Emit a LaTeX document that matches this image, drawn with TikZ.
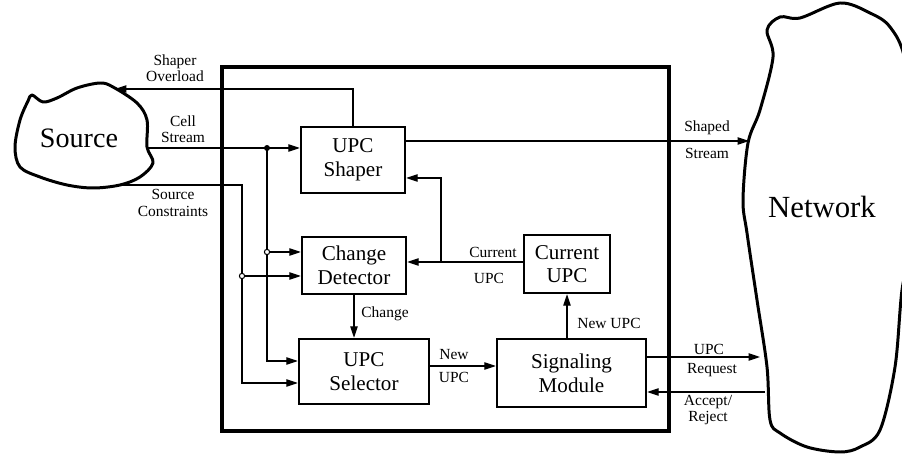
\documentclass[tikz,border=0pt]{standalone}
\usepackage{fontspec}
\setmainfont{Liberation Serif}
\usetikzlibrary{arrows.meta,positioning}

\tikzset{
  blk/.style={draw, line width=1.4pt, align=center, inner sep=0pt,
    font=\fontsize{12}{13.5}\selectfont},
  lbl/.style={align=center, inner sep=0pt, font=\fontsize{8.8}{9.2}\selectfont},
  wire/.style={line width=0.6pt},
  sig/.style={wire, -{Triangle[length=2.3mm,width=1.5mm]}},
  cloudline/.style={line width=1.7pt, line join=round},
  big/.style={inner sep=0pt, font=\fontsize{16}{18}\selectfont}
}

\begin{document}
\begin{tikzpicture}[x=0.02cm, y=-0.02cm]
  \useasboundingbox (0,0) rectangle (902,455);

  % clouds
  \draw[cloudline] plot[smooth cycle, tension=0.55] coordinates {
    (32,95) (43,102) (57,98) (77,88) (100,83) (113,87) (137,103)
    (147,120) (147,147) (153,163) (140,177) (120,185) (93,188)
    (67,185) (40,177) (20,167) (15,147) (20,120) (28,101)};
  \node[big] (src) at (79,138) {Source};

  \draw[cloudline] plot[smooth cycle, tension=0.55] coordinates {
    (767,30) (780,17) (800,18) (840,3) (870,13) (890,27) (905,60)
    (916,150) (912,240) (902,290) (895,367) (880,430) (860,447) (840,452)
    (807,447) (780,433) (770,420)
    (767,367) (757,300) (747,233) (743,200) (748,143) (760,110) (773,57)};
  \node[big, font=\fontsize{17.5}{19}\selectfont] (net) at (822,207) {Network};

  % unit frame and blocks
  \node[draw, line width=2pt, minimum width=8.94cm, minimum height=7.28cm] (unit) at (445.5,249) {};
  \node[blk, minimum width=2.08cm, minimum height=1.32cm] (shaper) at (353,160) {UPC\\Shaper};
  \node[blk, minimum width=2.08cm, minimum height=1.14cm] (detector) at (354,265.5) {Change\\Detector};
  \node[blk, minimum width=2.6cm, minimum height=1.3cm] (selector) at (364,371.5) {UPC\\Selector};
  \node[blk, minimum width=2.98cm, minimum height=1.36cm] (signal) at (571.5,373) {Signaling\\Module};
  \node[blk, minimum width=1.72cm, minimum height=1.16cm] (current) at (567,264) {Current\\UPC};

  % end points on the clouds and junctions
  \coordinate (so) at (115,89);
  \coordinate (cs) at (148,148);
  \coordinate (sc) at (123,185);
  \coordinate (scTurn) at (242,185);
  \coordinate (j1) at (267,148);
  \coordinate (j2) at (267,252);
  \coordinate (j3) at (242,276);
  \coordinate (fb) at (441,262);
  \coordinate (fbTop) at (441,178);
  \coordinate (ss) at (749,141);
  \coordinate (rq) at (760,357);
  \coordinate (ac) at (765,392);

  % connectors
  \draw[sig] (shaper.north) |- (so);
  \draw[sig] (cs) -- (shaper.west |- cs);
  \draw[sig] (j1) |- (selector.west |- 0,361);
  \draw[sig] (j2) -- (detector.west |- j2);
  \draw[sig] (sc) -- (scTurn) |- (selector.west |- 0,383);
  \draw[sig] (j3) -- (detector.west |- j3);
  \draw[sig] (shaper.east |- ss) -- (ss);
  \draw[sig] (current.west |- fb) -- (detector.east |- fb);
  \draw[sig] (fb) -- (fbTop) -- (shaper.east |- fbTop);
  \draw[sig] (detector.south) -- (detector.south |- selector.north);
  \draw[sig] (selector.east |- 0,366) -- (signal.west |- 0,366);
  \draw[sig] (current.south |- signal.north) -- (current.south);
  \draw[sig] (signal.east |- rq) -- (rq);
  \draw[sig] (ac) -- (signal.east |- ac);

  \fill (j1) circle (1.7pt);
  \draw[wire, fill=white] (j2) circle (1.5pt);
  \draw[wire, fill=white] (j3) circle (1.5pt);

  % labels
  \node[lbl] (lOver) at (175,68) {Shaper\\Overload};
  \node[lbl] (lCell) at (183,129) {Cell\\Stream};
  \node[lbl] (lCons) at (173,203) {Source\\Constraints};
  \node[lbl] (lShp1) at (707,128) {Shaped};
  \node[lbl] (lShp2) at (707,153) {Stream};
  \node[lbl] (lCur1) at (493,252) {Current};
  \node[lbl] (lCur2) at (489,278) {UPC};
  \node[lbl] (lChg) at (385,314) {Change};
  \node[lbl] (lNew1) at (454,355) {New};
  \node[lbl] (lNew2) at (454,377) {UPC};
  \node[lbl] (lNewU) at (609,323) {New UPC};
  \node[lbl] (lReq1) at (709,349) {UPC};
  \node[lbl] (lReq2) at (712,370) {Request};
  \node[lbl] (lAcc) at (708,410) {Accept/\\Reject};
\end{tikzpicture}
\end{document}
